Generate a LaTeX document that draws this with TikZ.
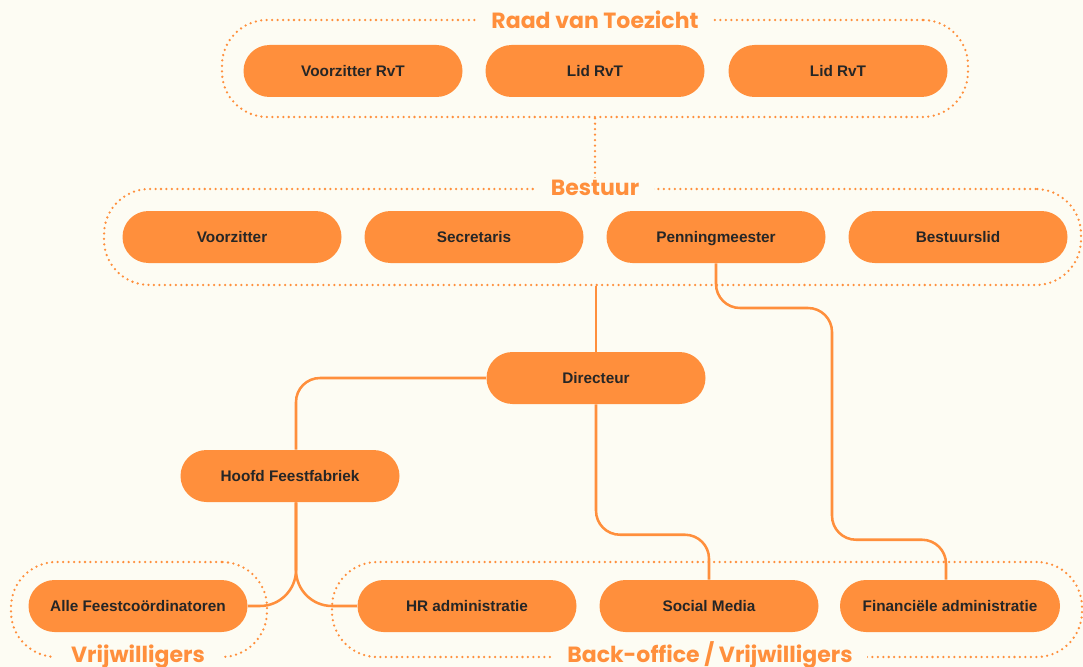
\documentclass[tikz,border=0pt]{standalone}
\usepackage{fontspec}
\setmainfont{Liberation Sans}
\newfontfamily\titlefont{Poppins}
\usetikzlibrary{calc}
\definecolor{bg}{HTML}{FDFCF3}
\definecolor{org}{HTML}{FF8F3C}
\definecolor{txt}{HTML}{262626}
\begin{document}
\begin{tikzpicture}[x=0.75pt,y=-0.75pt,
 pill/.style={fill=org, rounded corners=19.5pt, minimum width=164.25pt, minimum height=39pt, inner sep=0pt, text height=8pt, text depth=0pt, font=\fontsize{11.5}{13}\selectfont\bfseries, text=txt},
 grp/.style={draw=org, line width=1.9pt, dash pattern=on 0pt off 4.1pt, line cap=round, rounded corners=34pt, inner sep=0pt},
 gtitle/.style={fill=bg, text=org, font=\titlefont\fontsize{16.5}{18}\selectfont\bfseries, inner xsep=11pt, inner ysep=2pt, text height=11.5pt, text depth=0pt},
 conn/.style={draw=org, line width=1.9pt, rounded corners=18pt},
 dotc/.style={draw=org, line width=1.9pt, dash pattern=on 0pt off 4.1pt, line cap=round}]
\fill[bg] (0,0) rectangle (1083,667);
\useasboundingbox (0,0) rectangle (1083,667);
% groups
\node[grp, minimum width=559.5pt, minimum height=72.75pt] (rvt) at (595,68.5) {};
\node[grp, minimum width=732.75pt, minimum height=72pt] (best) at (592.5,237) {};
\node[grp, minimum width=192pt, minimum height=71.25pt] (vrij) at (139,609.5) {};
\node[grp, minimum width=562.5pt, minimum height=71.25pt] (back) at (707,609.5) {};
% pills
\node[pill] (vrvt) at (353,71) {Voorzitter RvT};
\node[pill] (lid1) at (595,71) {Lid RvT};
\node[pill] (lid2) at (838,71) {Lid RvT};
\node[pill] (vz) at (232,237) {Voorzitter};
\node[pill] (sec) at (474,237) {Secretaris};
\node[pill] (pen) at (716,237) {Penningmeester};
\node[pill] (bl) at (958,237) {Bestuurslid};
\node[pill] (dir) at (596,378) {Directeur};
\node[pill] (hoofd) at (290,476) {Hoofd Feestfabriek};
\node[pill] (alle) at (138,606) {Alle Feestcoördinatoren};
\node[pill] (hr) at (467,606) {HR administratie};
\node[pill] (sm) at (709,606) {Social Media};
\node[pill, minimum width=165pt] (fin) at (950,606) {Financiële administratie};
% connectors
\draw[dotc] (rvt.south) -- (rvt.south |- best.north);
\draw[conn] (dir.north |- best.south) -- (dir.north);
\draw[conn] (dir.west) -| ($(hoofd.north)+(6,0)$);
\draw[conn] (dir.south) |- ($(sm.north)+(0,-45)$) -- (sm.north);
\draw[conn] (pen.south) |- (832,308) |- ($(fin.north)+(-4,-40)$) -- ($(fin.north)+(-4,0)$);
\draw[conn, rounded corners=27pt] ($(hoofd.south)+(6,0)$) |- (alle.east);
\draw[conn, rounded corners=27pt] ($(hoofd.south)+(6,0)$) |- (hr.west);
% titles
\node[gtitle] (trvt) at (595,21) {Raad van Toezicht};
\node[gtitle] (tbest) at (595,188) {Bestuur};
\node[gtitle, inner xsep=14pt] (tvrij) at (138,655) {Vrijwilligers};
\node[gtitle] (tback) at (710,655) {Back-office / Vrijwilligers};
\end{tikzpicture}
\end{document}
